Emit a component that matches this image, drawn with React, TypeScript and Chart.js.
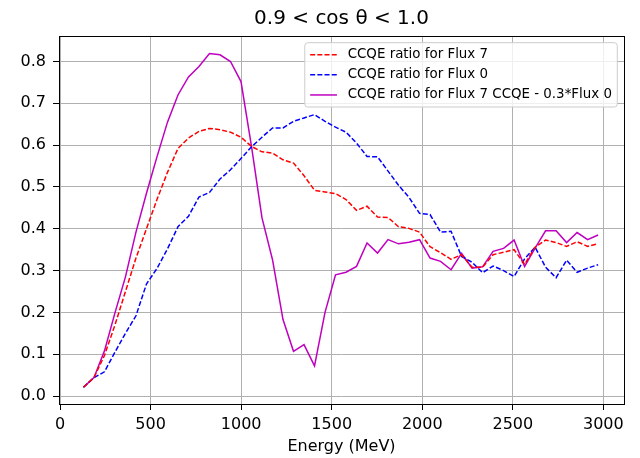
import React, { useEffect, useRef } from 'react';
import { Chart, registerables } from 'chart.js';

Chart.register(...registerables);

const FONT = 'DejaVu Sans';

const titleText = '0.9 < cos θ < 1.0';
const xAxisTitle = 'Energy (MeV)';
const seriesLabels = [
  'CCQE ratio for Flux 7',
  'CCQE ratio for Flux 0',
  'CCQE ratio for Flux 7 CCQE - 0.3*Flux 0',
];

const energies = [
  129, 187, 245, 303, 361, 419, 477, 535, 593, 651,
  709, 767, 825, 883, 941, 999, 1057, 1115, 1173, 1231,
  1289, 1347, 1405, 1463, 1521, 1579, 1637, 1695, 1753, 1811,
  1869, 1927, 1985, 2043, 2101, 2159, 2217, 2275, 2333, 2391,
  2449, 2507, 2565, 2623, 2681, 2739, 2797, 2855, 2913, 2971,
];

const flux7Ratio = [
  0.021, 0.044, 0.097, 0.170, 0.250, 0.330, 0.400, 0.470, 0.535, 0.592,
  0.617, 0.633, 0.640, 0.637, 0.631, 0.619, 0.597, 0.584, 0.581, 0.565,
  0.557, 0.527, 0.492, 0.488, 0.484, 0.470, 0.444, 0.454, 0.428, 0.427,
  0.405, 0.401, 0.392, 0.357, 0.343, 0.327, 0.338, 0.308, 0.308, 0.338,
  0.344, 0.350, 0.315, 0.356, 0.373, 0.367, 0.358, 0.369, 0.358, 0.364,
];

const flux0Ratio = [
  0.021, 0.044, 0.058, 0.105, 0.150, 0.192, 0.268, 0.305, 0.352, 0.405,
  0.430, 0.476, 0.487, 0.519, 0.541, 0.568, 0.596, 0.619, 0.641, 0.641,
  0.657, 0.665, 0.673, 0.657, 0.643, 0.631, 0.605, 0.573, 0.572, 0.538,
  0.504, 0.475, 0.437, 0.434, 0.392, 0.394, 0.334, 0.320, 0.295, 0.311,
  0.300, 0.286, 0.328, 0.356, 0.308, 0.283, 0.325, 0.296, 0.306, 0.314,
];

const diffRatio = [
  0.021, 0.044, 0.108, 0.199, 0.285, 0.392, 0.485, 0.572, 0.655, 0.720,
  0.763, 0.788, 0.819, 0.816, 0.800, 0.752, 0.597, 0.426, 0.326, 0.183,
  0.107, 0.123, 0.072, 0.200, 0.290, 0.296, 0.310, 0.366, 0.342, 0.374,
  0.364, 0.368, 0.374, 0.330, 0.322, 0.302, 0.341, 0.306, 0.309, 0.346,
  0.353, 0.373, 0.310, 0.354, 0.395, 0.395, 0.367, 0.391, 0.374, 0.385,
];

const xTicks = [0, 500, 1000, 1500, 2000, 2500, 3000];
const yTicks = [0, 0.1, 0.2, 0.3, 0.4, 0.5, 0.6, 0.7, 0.8];

const insideLegend = {
  id: 'insideLegend',
  afterDatasetsDraw(chart: any) {
    const { ctx, chartArea } = chart;
    const fs = 13.4;
    const pad = 0.4 * fs;
    const handle = 2 * fs;
    const textPad = 0.8 * fs;
    const spacing = 0.5 * fs;
    const axPad = 0.5 * fs;
    const rowH = fs + spacing;
    ctx.save();
    ctx.font = `${fs}px "${FONT}"`;
    const dsets = chart.data.datasets;
    let maxW = 0;
    dsets.forEach((d: any) => { maxW = Math.max(maxW, ctx.measureText(d.label).width); });
    const w = pad * 2 + handle + textPad + maxW;
    const h = pad * 2 + dsets.length * fs + (dsets.length - 1) * spacing;
    const x0 = chartArea.right - axPad - w;
    const y0 = chartArea.top + axPad;
    ctx.beginPath();
    if ((ctx as any).roundRect) (ctx as any).roundRect(x0, y0, w, h, 3);
    else ctx.rect(x0, y0, w, h);
    ctx.fillStyle = 'rgba(255,255,255,0.8)';
    ctx.fill();
    ctx.strokeStyle = '#cccccc';
    ctx.lineWidth = 1;
    ctx.stroke();
    dsets.forEach((d: any, i: number) => {
      const cy = y0 + pad + fs / 2 + i * rowH;
      ctx.beginPath();
      ctx.setLineDash(d.borderDash || []);
      ctx.strokeStyle = d.borderColor;
      ctx.lineWidth = d.borderWidth;
      ctx.moveTo(x0 + pad, cy);
      ctx.lineTo(x0 + pad + handle, cy);
      ctx.stroke();
      ctx.setLineDash([]);
      ctx.fillStyle = '#000';
      ctx.textBaseline = 'middle';
      ctx.textAlign = 'left';
      ctx.fillText(d.label, x0 + pad + handle + textPad, cy);
    });
    ctx.restore();
  },
};

const frame = {
  id: 'frame',
  afterDraw(chart: any) {
    const { ctx, chartArea } = chart;
    ctx.save();
    ctx.strokeStyle = '#000';
    ctx.lineWidth = 1;
    ctx.strokeRect(
      Math.round(chartArea.left) + 0.5,
      Math.round(chartArea.top) + 0.5,
      Math.round(chartArea.right - chartArea.left),
      Math.round(chartArea.bottom - chartArea.top)
    );
    ctx.restore();
  },
};

export default function App() {
  const ref = useRef<HTMLCanvasElement>(null);

  useEffect(() => {
    const canvas = ref.current;
    if (!canvas) return;
    const pts = (ys: number[]) => energies.map((x, i) => ({ x, y: ys[i] }));
    const common = { pointRadius: 0, fill: false, tension: 0, borderWidth: 1.5 };
    const chart = new Chart(canvas, {
      type: 'line',
      data: {
        datasets: [
          { ...common, label: seriesLabels[0], data: pts(flux7Ratio), borderColor: '#ff0000', borderDash: [5, 2.2] },
          { ...common, label: seriesLabels[1], data: pts(flux0Ratio), borderColor: '#0000ff', borderDash: [5, 2.2] },
          { ...common, label: seriesLabels[2], data: pts(diffRatio), borderColor: '#bf00bf' },
        ],
      },
      options: {
        animation: false,
        responsive: false,
        devicePixelRatio: 1,
        layout: { padding: { left: 0, right: 16, top: 0, bottom: 0 } },
        plugins: {
          legend: { display: false },
          tooltip: { enabled: false },
          title: {
            display: true,
            fullSize: false,
            text: titleText,
            color: '#000',
            font: { family: FONT, size: 20, weight: 'normal', lineHeight: 1.2 },
            padding: { top: 7, bottom: 5 },
          },
        },
        scales: {
          x: {
            type: 'linear',
            min: -6,
            max: 3114,
            afterBuildTicks: (s: any) => { s.ticks = xTicks.map((v) => ({ value: v })); },
            afterFit: (s: any) => { s.height = 54; },
            border: { display: false },
            grid: { color: '#b0b0b0', lineWidth: 1, tickColor: '#000', tickLength: 6, tickWidth: 1, drawTicks: true },
            ticks: {
              color: '#000',
              font: { family: FONT, size: 16 },
              padding: 5,
              maxRotation: 0,
              autoSkip: false,
              callback: (v: any) => String(v),
            },
            title: {
              display: true,
              text: xAxisTitle,
              color: '#000',
              font: { family: FONT, size: 16 },
              padding: { top: 0, bottom: 2 },
            },
          },
          y: {
            type: 'linear',
            min: -0.019,
            max: 0.861,
            afterBuildTicks: (s: any) => { s.ticks = yTicks.map((v) => ({ value: v })); },
            afterFit: (s: any) => { s.width = 59; },
            border: { display: false },
            grid: { color: '#b0b0b0', lineWidth: 1, tickColor: '#000', tickLength: 6, tickWidth: 1, drawTicks: true },
            ticks: {
              color: '#000',
              font: { family: FONT, size: 16 },
              padding: 7,
              autoSkip: false,
              callback: (v: any) => Number(v).toFixed(1),
            },
          },
        },
      },
      plugins: [insideLegend, frame],
    } as any);
    return () => chart.destroy();
  }, []);

  return (
    <div style={{ position: 'absolute', left: 0, top: 0, width: 640, height: 458, background: '#fff' }}>
      <canvas ref={ref} width={640} height={458} style={{ display: 'block' }} />
    </div>
  );
}
